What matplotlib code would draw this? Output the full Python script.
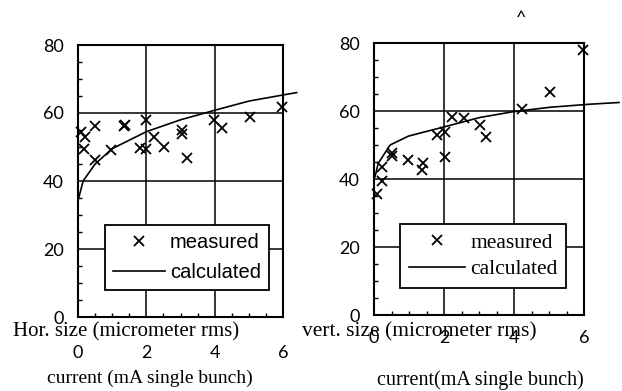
import matplotlib.pyplot as plt
from matplotlib.ticker import MultipleLocator

# Horizontal beam size (left panel)
hor_meas_x = [0.08, 0.2, 0.5, 0.18, 0.5, 0.98, 1.35, 1.38, 2.0, 1.8, 2.0, 2.23,
              2.52, 3.05, 3.05, 3.2, 3.99, 4.2, 5.03, 5.98]
hor_meas_y = [54.5, 52.8, 56.2, 49.3, 46.2, 49.1, 56.2, 56.5, 58.0, 49.6, 49.3, 52.8,
              49.9, 55.0, 53.8, 46.7, 58.0, 55.5, 58.9, 61.7]
hor_calc_x = [0.02, 0.15, 0.5, 1.0, 2.0, 3.0, 4.0, 5.0, 6.0, 6.4]
hor_calc_y = [35.0, 40.0, 45.0, 49.5, 54.5, 58.0, 60.8, 63.5, 65.3, 66.0]

# Vertical beam size (right panel)
vert_meas_x = [0.09, 0.22, 0.22, 0.5, 0.52, 0.98, 1.36, 1.41, 1.79, 2.03, 2.03, 2.22,
               2.57, 3.03, 3.2, 4.22, 5.03, 5.98]
vert_meas_y = [35.6, 39.5, 43.6, 46.8, 47.5, 45.6, 42.6, 44.6, 52.9, 53.9, 46.6, 58.1,
               57.8, 55.9, 52.3, 60.5, 65.7, 77.8]
vert_calc_x = [0.03, 0.12, 0.46, 0.98, 2.03, 3.03, 3.98, 5.03, 6.17, 7.0]
vert_calc_y = [40.7, 44.6, 50.0, 52.6, 55.4, 58.1, 59.8, 61.1, 62.0, 62.5]

x_ticks = [0, 2, 4, 6]
y_ticks = [0, 20, 40, 60, 80]

W, H = 622, 391
SANS = 'Lato'
SERIF = 'Liberation Serif'


def px(x, y):
    # pixel position -> figure fraction
    return x / W, 1 - y / H


def draw_panel(ax, mx, my, cx, cy, legend_font, legend_anchor, tick_pad, spacing):
    ax.set_xlim(0, 6)
    ax.set_ylim(0, 80)
    ax.set_xticks(x_ticks)
    ax.set_yticks(y_ticks)
    ax.xaxis.set_minor_locator(MultipleLocator(0.5))
    ax.yaxis.set_minor_locator(MultipleLocator(5))
    ax.grid(True, which='major', color='black', linewidth=1.1)
    ax.set_axisbelow(True)
    ax.tick_params(which='major', length=0, labelsize=13)
    ax.tick_params(axis='y', which='major', pad=10)
    ax.tick_params(axis='x', which='major', pad=tick_pad)
    ax.tick_params(which='minor', direction='in', length=3, width=1)
    for lab in ax.get_xticklabels() + ax.get_yticklabels():
        lab.set_fontfamily(SANS)
    for sp in ax.spines.values():
        sp.set_linewidth(1.5)

    ax.plot(mx, my, 'x', color='black', markersize=7, markeredgewidth=1.3,
            label='measured', clip_on=False, zorder=3)
    ax.plot(cx, cy, '-', color='black', linewidth=1.2,
            label='calculated', clip_on=False, zorder=3)

    leg = ax.legend(loc='lower left', bbox_to_anchor=legend_anchor, borderaxespad=0,
                    fancybox=False, framealpha=1, edgecolor='black',
                    prop=legend_font, handlelength=2.6, handletextpad=0.25,
                    borderpad=0.4, labelspacing=spacing, markerfirst=True)
    leg.get_frame().set_linewidth(1.3)
    leg.set_zorder(5)


fig = plt.figure(figsize=(6.22, 3.91), dpi=100)

ax1 = fig.add_axes([78 / W, 1 - 317 / H, 205 / W, 272 / H])
draw_panel(ax1, hor_meas_x, hor_meas_y, hor_calc_x, hor_calc_y,
           {'family': 'Liberation Sans', 'size': 14.5}, (0.13, 0.10), 20, 0.55)

ax2 = fig.add_axes([374 / W, 1 - 315 / H, 210 / W, 272 / H])
draw_panel(ax2, vert_meas_x, vert_meas_y, vert_calc_x, vert_calc_y,
           {'family': SERIF, 'size': 15.5}, (0.124, 0.10), 11, 0.3)

# axis titles written horizontally under each panel, as in the scan
fig.text(*px(13, 332), 'Hor. size (micrometer rms)', family=SERIF, size=15,
         ha='left', va='center')
fig.text(*px(150, 378), 'current (mA single bunch)', family=SERIF, size=14,
         ha='center', va='center')
fig.text(*px(302, 332), 'vert. size (micrometer rms)', family=SERIF, size=15.5,
         ha='left', va='center')
fig.text(*px(480, 380), 'current(mA single bunch)', family=SERIF, size=14.5,
         ha='center', va='center')
fig.text(*px(521, 18), '^', family=SANS, size=13, ha='center', va='center')

fig.savefig('out.png', dpi=100)
